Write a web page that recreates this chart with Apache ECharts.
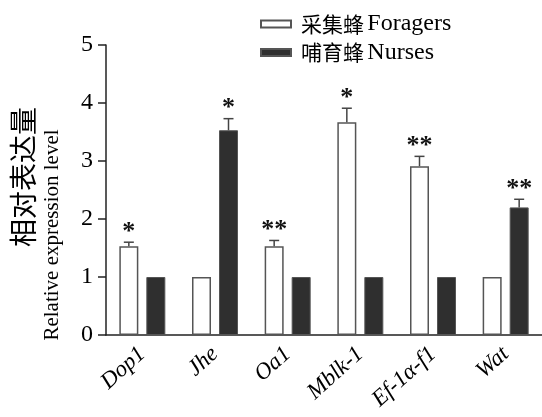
<!DOCTYPE html>
<html>
<head>
<meta charset="utf-8">
<script src="https://cdn.jsdelivr.net/npm/echarts@6/dist/echarts.min.js"></script>
<style>html,body{margin:0;padding:0;background:#fff}#c{width:542px;height:417px}</style>
</head>
<body>
<div id="c"></div>
<script>
const categories = ['Dop1', 'Jhe', 'Oa1', 'Mblk-1', 'Ef-1α-f1', 'Wat'];
const foragers = [1.53, 1, 1.53, 3.67, 2.91, 1];
const nurses = [1, 3.53, 1, 1, 1, 2.2];
const foragerErr = [0.07, 0, 0.1, 0.24, 0.17, 0];
const nurseErr = [0, 0.2, 0, 0, 0, 0.14];
const foragerSig = ['*', '', '**', '*', '**', ''];
const nurseSig = ['', '*', '', '', '', '**'];
const yTicks = [0, 1, 2, 3, 4, 5];
const seriesNames = ['采集蜂 Foragers', '哺育蜂 Nurses'];

const SERIF = '"Liberation Serif", "Times New Roman", serif';
const CJK = '"Noto Sans CJK SC", sans-serif';
const BAR_W = 19, BAR_GAP = 8;
const OFF = (BAR_W + BAR_GAP) / 2;

function errSeries(vals, errs, sigs, dir) {
  return {
    type: 'custom',
    z: 5,
    silent: true,
    data: vals.map((v, i) => [i, v, errs[i]]),
    encode: { x: 0, y: 1 },
    renderItem: function (params, api) {
      const i = api.value(0), v = api.value(1), e = api.value(2);
      const base = api.coord([i, v]);
      const top = api.coord([i, v + e]);
      const x = base[0] + dir * OFF;
      const children = [];
      if (e > 0) {
        children.push({ type: 'line', shape: { x1: x, y1: base[1], x2: x, y2: top[1] }, style: { stroke: '#444', lineWidth: 1.5 } });
        children.push({ type: 'line', shape: { x1: x - 5, y1: top[1], x2: x + 5, y2: top[1] }, style: { stroke: '#444', lineWidth: 1.5 } });
      }
      const s = sigs[i];
      if (s) {
        children.push({ type: 'text', x: x, y: top[1] - 10, style: { text: s, fontSize: 26, fontWeight: 'bold', fontFamily: SERIF, fill: '#111', textAlign: 'center', textVerticalAlign: 'middle' } });
      }
      return { type: 'group', children: children };
    }
  };
}

const chart = echarts.init(document.getElementById('c'), null, { renderer: 'canvas' });
chart.setOption({
  animation: false,
  backgroundColor: '#fff',
  grid: { left: 106, right: 0, top: 45, bottom: 82, containLabel: false },
  legend: {
    orient: 'vertical',
    left: 255,
    top: 7,
    itemWidth: 30,
    itemHeight: 7,
    itemGap: 4.5,
    icon: 'rect',
    data: seriesNames,
    formatter: function (name) {
      const p = name.split(' ');
      return '{cn|' + p[0] + '} {en|' + p[1] + '}';
    },
    textStyle: {
      color: '#000',
      padding: [0, 0, 0, 5],
      rich: {
        cn: { fontFamily: CJK, fontSize: 21, lineHeight: 24, color: '#000' },
        en: { fontFamily: SERIF, fontSize: 24, lineHeight: 24, color: '#000' }
      }
    }
  },
  xAxis: {
    type: 'category',
    data: categories,
    axisLine: { lineStyle: { color: '#222', width: 1.5 } },
    axisTick: { alignWithLabel: true, length: 8, lineStyle: { color: '#222', width: 1.5 } },
    axisLabel: { rotate: 42, margin: 16, fontFamily: SERIF, fontStyle: 'italic', fontSize: 23, color: '#000' }
  },
  yAxis: {
    type: 'value',
    min: yTicks[0],
    max: yTicks[yTicks.length - 1],
    interval: 1,
    axisLine: { show: true, lineStyle: { color: '#222', width: 1.5 } },
    axisTick: { show: true, length: 8, lineStyle: { color: '#222', width: 1.5 } },
    axisLabel: { margin: 13, fontFamily: SERIF, fontSize: 24, color: '#000' },
    splitLine: { show: false }
  },
  graphic: [
    { type: 'text', x: 23, y: 177, rotation: Math.PI / 2, style: { text: '相对表达量', fontFamily: CJK, fontSize: 28, fill: '#000', textAlign: 'center', textVerticalAlign: 'middle' } },
    { type: 'text', x: 52, y: 235, rotation: Math.PI / 2, style: { text: 'Relative expression level', fontFamily: SERIF, fontSize: 21, fill: '#000', textAlign: 'center', textVerticalAlign: 'middle' } }
  ],
  series: [
    { name: seriesNames[0], type: 'bar', data: foragers, barWidth: BAR_W, barGap: (BAR_GAP / BAR_W * 100) + '%',
      itemStyle: { color: '#fff', borderColor: '#555', borderWidth: 1.5 } },
    { name: seriesNames[1], type: 'bar', data: nurses, barWidth: BAR_W,
      itemStyle: { color: '#2f2f2f', borderColor: '#555', borderWidth: 1 } },
    errSeries(foragers, foragerErr, foragerSig, -1),
    errSeries(nurses, nurseErr, nurseSig, 1)
  ]
});
</script>
</body>
</html>
